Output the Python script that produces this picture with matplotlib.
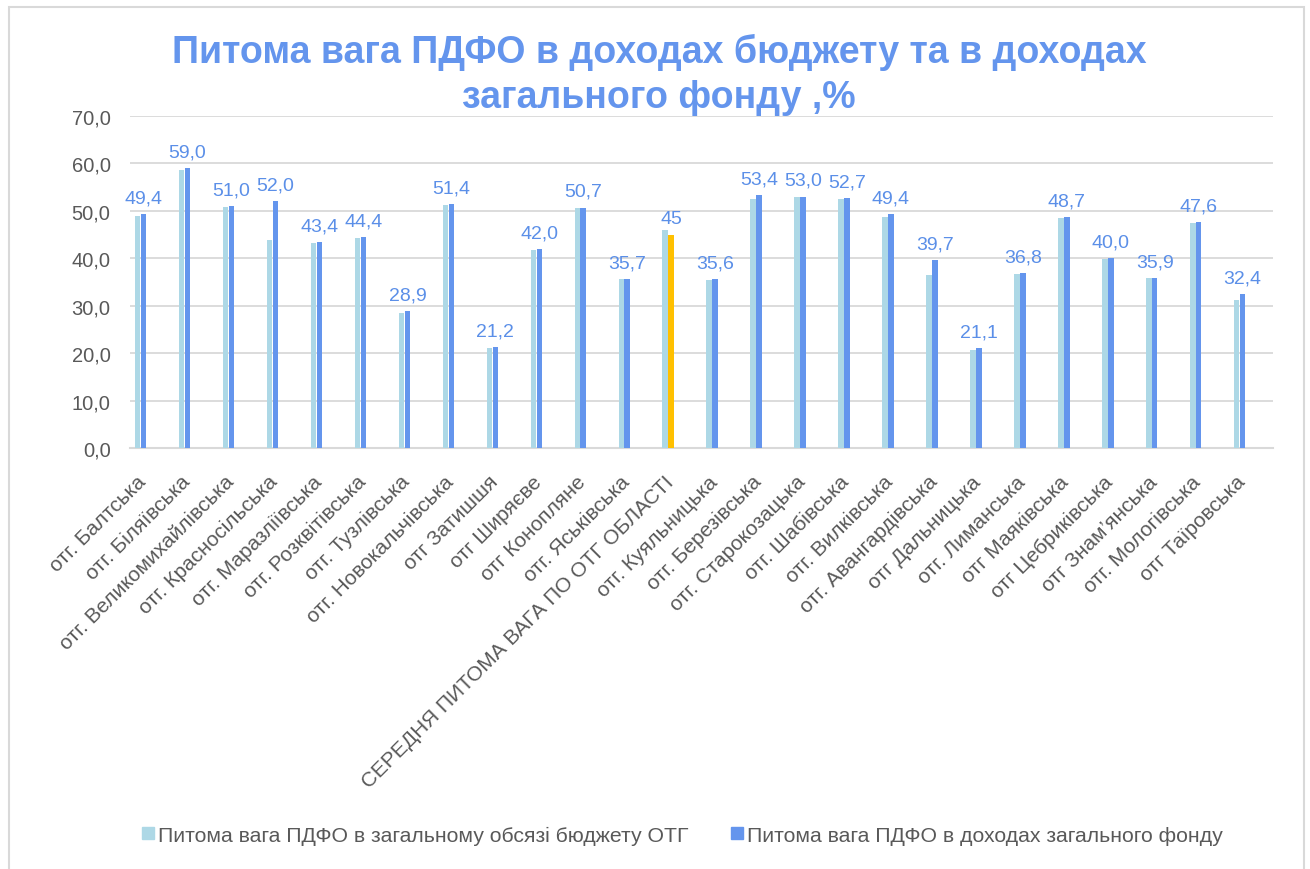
import matplotlib
matplotlib.use("Agg")
import matplotlib.pyplot as plt
from matplotlib.patches import Rectangle, Patch
import numpy as np

plt.rcParams['font.family'] = ['Liberation Sans', 'DejaVu Sans']

categories = [
    'отг. Балтська', 'отг. Біляївська', 'отг. Великомихайлівська',
    'отг. Красносільська', 'отг. Маразліївська', 'отг. Розквітівська',
    'отг. Тузлівська', 'отг. Новокальчівська', 'отг Затишшя', 'отг Ширяєве',
    'отг Конопляне', 'отг. Яськівська', 'СЕРЕДНЯ ПИТОМА ВАГА ПО ОТГ ОБЛАСТІ',
    'отг. Куяльницька', 'отг. Березівська', 'отг. Старокозацька',
    'отг. Шабівська', 'отг. Вилківська', 'отг. Авангардівська',
    'отг Дальницька', 'отг. Лиманська', 'отг Маяківська', 'отг Цебриківська',
    'отг Знам’янська', 'отг. Мологівська', 'отг Таїровська',
]

# питома вага ПДФО в загальному обсязі бюджету ОТГ
total_share = [48.9, 58.6, 50.9, 43.8, 43.2, 44.3, 28.5, 51.2, 21.1, 41.8,
               50.5, 35.6, 45.9, 35.5, 52.6, 52.9, 52.6, 48.8, 36.4, 20.7,
               36.7, 48.4, 39.8, 35.8, 47.4, 31.1]
# питома вага ПДФО в доходах загального фонду
general_share = [49.4, 59.0, 51.0, 52.0, 43.4, 44.4, 28.9, 51.4, 21.2, 42.0,
                 50.7, 35.7, 45.0, 35.6, 53.4, 53.0, 52.7, 49.4, 39.7, 21.1,
                 36.8, 48.7, 40.0, 35.9, 47.6, 32.4]
general_labels = ['49,4', '59,0', '51,0', '52,0', '43,4', '44,4', '28,9', '51,4',
                  '21,2', '42,0', '50,7', '35,7', '45', '35,6', '53,4', '53,0',
                  '52,7', '49,4', '39,7', '21,1', '36,8', '48,7', '40,0', '35,9',
                  '47,6', '32,4']

LIGHT = '#ADD8E6'
DARK = '#6495ED'
YELLOW = '#FFC000'
TXT = '#595959'
LBL = '#5B8FE8'

fig = plt.figure(figsize=(13.1, 8.7), dpi=100)
ax = fig.add_axes([130 / 1310, 1 - 449 / 870, (1273 - 130) / 1310, (449 - 117) / 870])

n = len(categories)
x = np.arange(n)
w = 0.125
dark_colors = [YELLOW if c.startswith('СЕРЕДНЯ') else DARK for c in categories]
ax.bar(x - 0.325, total_share, width=w, color=LIGHT, zorder=3)
ax.bar(x - 0.19, general_share, width=w, color=dark_colors, zorder=3)

for xi, v, s in zip(x, general_share, general_labels):
    ax.annotate(s, (xi - 0.19, v), xytext=(0, 5.5), textcoords='offset points',
                ha='center', va='bottom', fontsize=14, color=LBL)

ax.set_xlim(-0.5, n - 0.5)
ax.set_ylim(0, 70)
ax.set_yticks(np.arange(0, 71, 10))
ax.set_yticklabels([f'{v:.1f}'.replace('.', ',') for v in np.arange(0, 71, 10)],
                   fontsize=14.5, color=TXT)
ax.yaxis.grid(True, color='#D9D9D9', linewidth=1.3, zorder=0)
ax.set_axisbelow(True)
for sp in ['top', 'right', 'left']:
    ax.spines[sp].set_visible(False)
ax.spines['bottom'].set_color('#D9D9D9')
ax.spines['bottom'].set_linewidth(1.5)
ax.tick_params(axis='both', length=0)
ax.tick_params(axis='y', pad=14)

ax.set_xticks(x - 0.36)
ax.set_xticklabels(categories, rotation=45, ha='right', va='top',
                   rotation_mode='anchor', fontsize=15, color=TXT)
ax.tick_params(axis='x', pad=17)

fig.text(0.503, 1 - 75 / 870,
         'Питома вага ПДФО в доходах бюджету та в доходах\nзагального фонду ,%',
         ha='center', va='center', fontsize=27, fontweight='bold', color=DARK,
         linespacing=1.3)

handles = [Patch(color=LIGHT), Patch(color=DARK)]
fig.legend(handles,
           ['Питома вага ПДФО в загальному обсязі бюджету ОТГ',
            'Питома вага ПДФО в доходах загального фонду'],
           loc='center', bbox_to_anchor=(0.521, 1 - 836 / 870), ncol=2,
           frameon=False, fontsize=15.3, labelcolor=TXT,
           handlelength=0.55, handleheight=0.55, handletextpad=0.2,
           columnspacing=2.0)

fig.patches.append(Rectangle((9 / 1310, -0.1), (1304 - 9) / 1310, 1.1 - 8 / 870,
                             transform=fig.transFigure, fill=False,
                             edgecolor='#D9D9D9', linewidth=1.5))

fig.savefig('out.png', dpi=100, facecolor='white')
